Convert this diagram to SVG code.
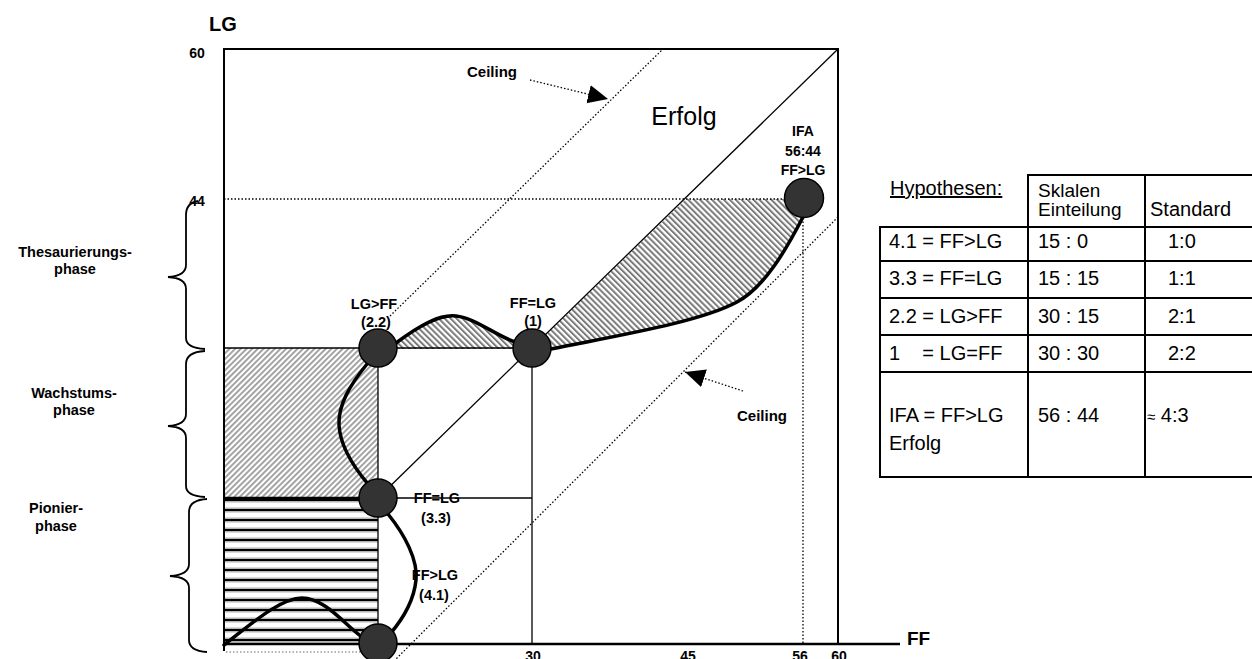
<svg xmlns="http://www.w3.org/2000/svg" width="1252" height="659" viewBox="0 0 1252 659">
<defs>
<style>
.b{font-family:"Liberation Sans",Arial,sans-serif;font-weight:bold;fill:#000}
.n{font-family:"Liberation Sans",Arial,sans-serif;fill:#000}
.frame{stroke:#000;stroke-width:2;fill:none}
.thin{stroke:#000;stroke-width:1.3;fill:none}
.dot{stroke:#000;stroke-width:1.3;stroke-dasharray:1.5 2;fill:none}
.curve{stroke:#000;stroke-width:3.5;fill:none;stroke-linecap:round}
.node{fill:#333;stroke:#000;stroke-width:1.5}
.tbl{stroke:#000;stroke-width:2}
.brace{stroke:#000;stroke-width:1.8;fill:none}
</style>
<pattern id="hFwd" width="4" height="4" patternUnits="userSpaceOnUse" patternTransform="rotate(45)">
<rect width="4" height="4" fill="#fff"/>
<rect width="1.8" height="4" fill="#9a9a9a"/>
</pattern>
<pattern id="hBack" width="4.2" height="4.2" patternUnits="userSpaceOnUse" patternTransform="rotate(-45)">
<rect width="4.2" height="4.2" fill="#fff"/>
<rect width="2" height="4.2" fill="#7a7a7a"/>
</pattern>
<pattern id="hHor" width="10" height="10" patternUnits="userSpaceOnUse" y="495">
<rect width="10" height="10" fill="#fff"/>
<rect y="2.5" width="10" height="5" fill="#b5b5b5"/>
<rect y="4" width="10" height="2" fill="#000"/>
</pattern>
<marker id="arr" markerUnits="userSpaceOnUse" markerWidth="21" markerHeight="19" refX="20" refY="9.3" orient="auto">
<path d="M0,0 L20,9.3 L0,18.6 Z" fill="#000" stroke="none"/>
</marker>
</defs>
<rect width="1252" height="659" fill="#fff"/>

<g id="regions">
<rect x="224" y="348" width="154" height="150" fill="url(#hFwd)"/>
<rect x="224" y="498" width="154" height="146" fill="url(#hHor)"/>
<path d="M 396 343 C 420 325, 440 314, 456 316 C 475 318, 495 335, 515 342 L 515 349 L 396 349 Z" fill="url(#hBack)"/>
<path d="M 532 348 L 686 199 L 792 199 L 803 217 C 787 248, 765 287, 737 302 C 700 322, 620 335, 551 349 Z" fill="url(#hBack)"/>
</g>

<g id="frame">
<line x1="224" y1="49" x2="838" y2="49" class="frame"/>
<line x1="224" y1="48" x2="224" y2="651" class="frame"/>
<line x1="838" y1="48" x2="838" y2="644" class="frame"/>
<line x1="378" y1="644" x2="900" y2="644" stroke="#000" stroke-width="2.5"/>
<line x1="224" y1="644" x2="378" y2="644" stroke="#000" stroke-width="2.5"/>
<line x1="224" y1="498" x2="378" y2="498" stroke="#000" stroke-width="2.5"/>
<line x1="226" y1="652" x2="378" y2="652" stroke="#999" stroke-width="1.3" stroke-dasharray="1.5 2"/>
</g>

<g id="connectors">
<line x1="224" y1="348" x2="532" y2="348" class="thin"/>
<line x1="378" y1="348" x2="378" y2="644" class="thin"/>
<line x1="532" y1="348" x2="532" y2="644" class="thin"/>
<line x1="378" y1="498" x2="532" y2="498" class="thin"/>
<line x1="378" y1="498" x2="838" y2="49" class="thin"/>
<line x1="224" y1="199" x2="790" y2="199" class="dot"/>
<line x1="803" y1="218" x2="803" y2="644" class="dot"/>
<line x1="390" y1="316" x2="663" y2="49" class="dot"/>
<line x1="838" y1="217" x2="395" y2="660" class="dot"/>
<line x1="530" y1="80" x2="608" y2="99" class="dot" marker-end="url(#arr)"/>
<line x1="743" y1="391" x2="685" y2="372" class="dot" marker-end="url(#arr)"/>
<path d="M 396 343 C 420 325, 440 314, 456 316 C 475 318, 495 335, 515 342" class="curve"/>
<path d="M 551 349 C 620 335, 700 322, 737 302 C 765 287, 787 248, 803 217" class="curve"/>
<path d="M 367 364 C 350 385, 338 405, 339 425 C 340 445, 352 465, 368 484" class="curve"/>
<path d="M 388 514 C 405 535, 418 560, 416 580 C 414 600, 402 620, 390 634" class="curve" stroke="#464646"/>
<path d="M 224 645 C 250 625, 280 598, 302 598 C 325 598, 345 625, 362 637" class="curve" stroke-width="3"/>
</g>

<g id="axes-labels">
<text x="223" y="31" class="b" font-size="20" text-anchor="middle">LG</text>
<text x="197" y="58" class="b" font-size="14" text-anchor="middle">60</text>
<text x="197" y="206" class="b" font-size="14" text-anchor="middle">44</text>
<text x="907" y="645" class="b" font-size="19">FF</text>
<text x="533" y="661" class="b" font-size="14" text-anchor="middle">30</text>
<text x="688" y="661" class="b" font-size="14" text-anchor="middle">45</text>
<text x="800" y="661" class="b" font-size="14" text-anchor="middle">56</text>
<text x="839" y="661" class="b" font-size="14" text-anchor="middle">60</text>
<text x="492" y="77" class="b" font-size="15" text-anchor="middle">Ceiling</text>
<text x="762" y="421" class="b" font-size="15" text-anchor="middle">Ceiling</text>
<text x="684" y="125" class="n" font-size="25" text-anchor="middle">Erfolg</text>
</g>

<g id="phases">
<path d="M 198 201 Q 186 203 186 215 L 186 265 Q 186 276 168 277 Q 186 278 186 289 L 186 338 Q 186 348 205 349" class="brace"/>
<path d="M 205 351 Q 186 352 186 364 L 186 414 Q 186 425 168 426 Q 186 427 186 438 L 186 486 Q 186 496 205 497" class="brace"/>
<path d="M 207 499 Q 189 500 189 512 L 189 564 Q 189 575 170 576 Q 189 577 189 588 L 189 640 Q 189 651 207 652" class="brace"/>
<text x="75" y="257" class="b" font-size="14.5" text-anchor="middle">Thesaurierungs-</text>
<text x="75" y="274" class="b" font-size="14.5" text-anchor="middle">phase</text>
<text x="74" y="398" class="b" font-size="14.5" text-anchor="middle">Wachstums-</text>
<text x="74" y="415" class="b" font-size="14.5" text-anchor="middle">phase</text>
<text x="56" y="513" class="b" font-size="14.5" text-anchor="middle">Pionier-</text>
<text x="56" y="531" class="b" font-size="14.5" text-anchor="middle">phase</text>
</g>

<g id="node-2-2">
<circle cx="378" cy="348" r="19" class="node"/>
<text x="374" y="309" class="b" font-size="14.5" text-anchor="middle">LG&gt;FF</text>
<text x="376" y="327" class="b" font-size="14.5" text-anchor="middle">(2.2)</text>
</g>
<g id="node-1">
<circle cx="532" cy="348" r="19" class="node"/>
<text x="533" y="308" class="b" font-size="14.5" text-anchor="middle">FF=LG</text>
<text x="533" y="326" class="b" font-size="14.5" text-anchor="middle">(1)</text>
</g>
<g id="node-3-3">
<circle cx="378" cy="498" r="19" class="node"/>
<text x="437" y="503" class="b" font-size="14.5" text-anchor="middle">FF=LG</text>
<text x="436" y="523" class="b" font-size="14.5" text-anchor="middle">(3.3)</text>
</g>
<g id="node-4-1">
<circle cx="378" cy="643" r="19" class="node"/>
<text x="435" y="580" class="b" font-size="14.5" text-anchor="middle">FF&gt;LG</text>
<text x="434" y="600" class="b" font-size="14.5" text-anchor="middle">(4.1)</text>
</g>
<g id="node-ifa">
<circle cx="804" cy="198" r="19.5" class="node"/>
<text x="803" y="136" class="b" font-size="14" text-anchor="middle">IFA</text>
<text x="803" y="156" class="b" font-size="14" text-anchor="middle">56:44</text>
<text x="803" y="175" class="b" font-size="14" text-anchor="middle">FF&gt;LG</text>
</g>

<g id="table">
<line x1="1028" y1="175" x2="1252" y2="175" class="tbl"/>
<line x1="1028" y1="174" x2="1028" y2="478" class="tbl"/>
<line x1="1145" y1="174" x2="1145" y2="478" class="tbl"/>
<line x1="880" y1="227" x2="1252" y2="227" class="tbl"/>
<line x1="880" y1="226" x2="880" y2="478" class="tbl"/>
<line x1="880" y1="261" x2="1252" y2="261" class="tbl"/>
<line x1="880" y1="298" x2="1252" y2="298" class="tbl"/>
<line x1="880" y1="335" x2="1252" y2="335" class="tbl"/>
<line x1="880" y1="372" x2="1252" y2="372" class="tbl"/>
<line x1="880" y1="477" x2="1252" y2="477" class="tbl"/>
<text x="890" y="195" class="n" font-size="20" text-decoration="underline">Hypothesen:</text>
<text x="1038" y="197" class="n" font-size="19">Sklalen</text>
<text x="1038" y="216" class="n" font-size="19">Einteilung</text>
<text x="1150" y="216" class="n" font-size="20">Standard</text>
<text x="889" y="248" class="n" font-size="20">4.1 = FF&gt;LG</text>
<text x="1038" y="248" class="n" font-size="20">15 : 0</text>
<text x="1168" y="248" class="n" font-size="20">1:0</text>
<text x="889" y="285" class="n" font-size="20">3.3 = FF=LG</text>
<text x="1038" y="285" class="n" font-size="20">15 : 15</text>
<text x="1168" y="285" class="n" font-size="20">1:1</text>
<text x="889" y="323" class="n" font-size="20">2.2 = LG&gt;FF</text>
<text x="1038" y="323" class="n" font-size="20">30 : 15</text>
<text x="1168" y="323" class="n" font-size="20">2:1</text>
<text x="889" y="360" class="n" font-size="20" style="white-space:pre">1    = LG=FF</text>
<text x="1038" y="360" class="n" font-size="20">30 : 30</text>
<text x="1168" y="360" class="n" font-size="20">2:2</text>
<text x="889" y="422" class="n" font-size="20">IFA = FF&gt;LG</text>
<text x="889" y="450" class="n" font-size="20">Erfolg</text>
<text x="1038" y="422" class="n" font-size="20">56 : 44</text>
<text x="1147" y="422" class="n" font-size="20"><tspan font-size="15">≈</tspan> 4:3</text>
</g>
</svg>
